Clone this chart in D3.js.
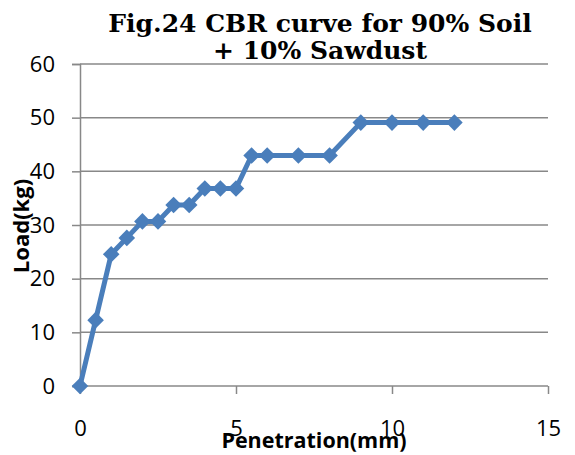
<!DOCTYPE html>
<html lang="en">
<head>
  <meta charset="utf-8">
  <title>CBR curve</title>
  <script src="https://cdn.jsdelivr.net/npm/d3@7"></script>
  <style>
    body { margin: 0; background: #fff; }
    .tick text { font-family: "Open Sans", "Liberation Sans", sans-serif; }
  </style>
</head>
<body>
  <svg id="chart"></svg>
  <script>
    // data: penetration (mm) vs load (kg)
    var penetration = [0, 0.5, 1, 1.5, 2, 2.5, 3, 3.5, 4, 4.5, 5, 5.5, 6, 7, 8, 9, 10, 11, 12];
    var load = [0, 12.27, 24.54, 27.6, 30.67, 30.67, 33.74, 33.74, 36.8, 36.8, 36.8, 42.94, 42.94, 42.94, 42.94, 49.08, 49.08, 49.08, 49.08];
    var xTicks = [0, 5, 10, 15];
    var yTicks = [0, 10, 20, 30, 40, 50, 60];

    var width = 575, height = 455;
    var margin = { top: 64, right: 27, bottom: 69, left: 80 };

    var svg = d3.select("#chart").attr("width", width).attr("height", height);

    var x = d3.scaleLinear().domain([0, 15]).range([margin.left, width - margin.right]);
    var y = d3.scaleLinear().domain([0, 60]).range([height - margin.bottom, margin.top]);

    // horizontal grid
    svg.append("g").selectAll("line")
      .data(yTicks)
      .join("line")
      .attr("x1", x(0)).attr("x2", x(15))
      .attr("y1", function (d) { return y(d); }).attr("y2", function (d) { return y(d); })
      .attr("stroke", "#888").attr("stroke-width", 1.5);

    // y axis
    var yAxis = svg.append("g")
      .attr("transform", "translate(" + x(0) + ",0)")
      .call(d3.axisLeft(y).tickValues(yTicks).tickSize(8).tickPadding(17));
    yAxis.select(".domain").attr("stroke", "#888").attr("stroke-width", 1.5);
    yAxis.selectAll(".tick line").attr("stroke", "#888").attr("stroke-width", 1.5);
    yAxis.selectAll(".tick text").attr("font-size", 22).attr("fill", "#000");

    // x axis
    var xAxis = svg.append("g")
      .attr("transform", "translate(0," + y(0) + ")")
      .call(d3.axisBottom(x).tickValues(xTicks).tickSize(8).tickPadding(26));
    xAxis.select(".domain").remove();
    xAxis.selectAll(".tick line").attr("stroke", "#888").attr("stroke-width", 1.5);
    xAxis.selectAll(".tick text").attr("font-size", 22).attr("fill", "#000");

    // series
    var pts = penetration.map(function (p, i) { return [p, load[i]]; });
    svg.append("path")
      .datum(pts)
      .attr("fill", "none")
      .attr("stroke", "#4a7ebb")
      .attr("stroke-width", 5)
      .attr("stroke-linejoin", "round")
      .attr("d", d3.line().x(function (d) { return x(d[0]); }).y(function (d) { return y(d[1]); }));

    svg.append("g").selectAll("path")
      .data(pts)
      .join("path")
      .attr("d", d3.symbol(d3.symbolDiamond2, 175))
      .attr("transform", function (d) { return "translate(" + x(d[0]) + "," + y(d[1]) + ")"; })
      .attr("fill", "#4a7ebb");

    // title
    var title = svg.append("text")
      .attr("text-anchor", "middle")
      .attr("font-family", "DejaVu Serif, serif")
      .attr("font-weight", "bold")
      .attr("font-size", 25)
      .attr("fill", "#000");
    title.append("tspan").attr("x", 320).attr("y", 32).text("Fig.24 CBR curve for 90% Soil");
    title.append("tspan").attr("x", 320).attr("y", 59).text("+ 10% Sawdust");

    // axis titles
    svg.append("text")
      .attr("x", 314).attr("y", 448)
      .attr("text-anchor", "middle")
      .attr("font-family", "Open Sans, sans-serif")
      .attr("font-weight", "bold")
      .attr("font-size", 21.5)
      .text("Penetration(mm)");

    svg.append("text")
      .attr("transform", "translate(29,226) rotate(-90)")
      .attr("text-anchor", "middle")
      .attr("font-family", "Open Sans, sans-serif")
      .attr("font-weight", "bold")
      .attr("font-size", 22)
      .text("Load(kg)");
  </script>
</body>
</html>
